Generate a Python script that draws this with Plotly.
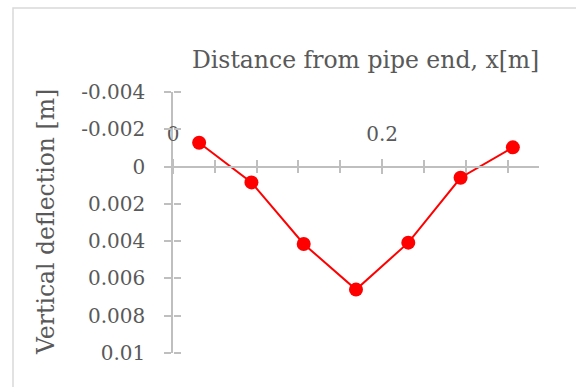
import plotly.graph_objects as go

# Data
x_vals = [0.025, 0.075, 0.125, 0.175, 0.225, 0.275, 0.325]
deflection = [-0.00128, 0.00085, 0.00415, 0.0066, 0.00408, 0.0006, -0.00103]
y_tickvals = [-0.004, -0.002, 0, 0.002, 0.004, 0.006, 0.008, 0.01]
y_ticktext = ["-0.004", "-0.002", "0", "0.002", "0.004", "0.006", "0.008", "0.01"]
x_tickvals = [0, 0.2]
x_ticktext = ["0", "0.2"]
x_title = "Distance from pipe end, x[m]"
y_title = "Vertical deflection [m]"

FONT = "DejaVu Serif"
TXT = "#595959"
AX = "#bfbfbf"

W, H = 576, 387
ml, mr, mt, mb = 173, 37, 92, 34
pw = W - ml - mr
ph = H - mt - mb

xr = [0, 0.35]
yr = [0.01, -0.004]
ypos = (yr[0] - 0) / (yr[0] - yr[1])

TICK_SIZE = 20
TITLE_SIZE = 23.5

fig = go.Figure()
fig.add_trace(go.Scatter(
    x=x_vals, y=deflection, mode="lines+markers",
    line=dict(color="#ff0000", width=2),
    marker=dict(color="#ff0000", size=14),
    showlegend=False, xaxis="x", yaxis="y",
))
fig.add_trace(go.Scatter(x=[None], y=[None], xaxis="x2", yaxis="y2", showlegend=False))

fig.update_layout(
    width=W, height=H,
    margin=dict(l=ml, r=mr, t=mt, b=mb),
    paper_bgcolor="white", plot_bgcolor="white",
    font=dict(family=FONT, color=TXT, size=TICK_SIZE),
    xaxis=dict(
        range=xr, anchor="free", position=ypos, side="top",
        showline=True, linecolor=AX, linewidth=1.5,
        showgrid=False, zeroline=False,
        tickvals=x_tickvals, ticktext=x_ticktext,
        ticks="outside", ticklen=7, tickcolor=AX, tickwidth=1.5,
        minor=dict(dtick=0.04, tick0=0, ticks="outside", ticklen=6, tickcolor=AX, tickwidth=1.5),
        ticklabelstandoff=10,
        tickfont=dict(family=FONT, color=TXT, size=TICK_SIZE),
    ),
    xaxis2=dict(
        range=xr, anchor="free", position=ypos, side="bottom", overlaying="x",
        showline=False, showgrid=False, zeroline=False, showticklabels=False,
        tickvals=x_tickvals,
        ticks="outside", ticklen=6, tickcolor=AX, tickwidth=1.5,
        minor=dict(dtick=0.04, tick0=0, ticks="outside", ticklen=5, tickcolor=AX, tickwidth=1.5),
    ),
    yaxis=dict(
        range=yr, showline=True, linecolor=AX, linewidth=1.5,
        showgrid=False, zeroline=False,
        tickvals=y_tickvals, ticktext=y_ticktext,
        ticks="outside", ticklen=7, tickcolor=AX, tickwidth=1.5,
        ticklabelstandoff=15,
        tickfont=dict(family=FONT, color=TXT, size=TICK_SIZE),
    ),
    yaxis2=dict(
        range=yr, overlaying="y", anchor="free", position=0, side="right",
        showline=False, showgrid=False, zeroline=False, showticklabels=False,
        tickvals=y_tickvals,
        ticks="outside", ticklen=7, tickcolor=AX, tickwidth=1.5,
    ),
    shapes=[dict(
        type="rect", xref="paper", yref="paper",
        x0=(13 - ml) / pw, x1=(W + 5 - ml) / pw,
        y0=-(mb + 5) / ph, y1=(H - 8 - mb) / ph,
        line=dict(color="#d9d9d9", width=1.5), layer="below",
    )],
    annotations=[
        dict(text=x_title, xref="paper", yref="paper",
             x=(365 - ml) / pw, y=(H - mb - 60) / ph, showarrow=False,
             xanchor="center", yanchor="middle",
             font=dict(family=FONT, color=TXT, size=TITLE_SIZE)),
        dict(text=y_title, xref="paper", yref="paper", textangle=-90,
             x=(46 - ml) / pw, y=(H - mb - 222) / ph, showarrow=False,
             xanchor="center", yanchor="middle",
             font=dict(family=FONT, color=TXT, size=TITLE_SIZE)),
    ],
)

fig.write_html("out.html")
